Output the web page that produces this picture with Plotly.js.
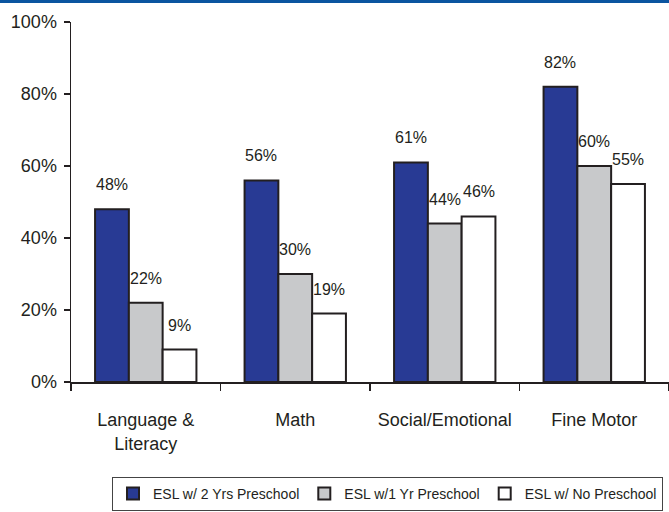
<!DOCTYPE html>
<html>
<head>
<meta charset="utf-8">
<script src="https://cdn.plot.ly/plotly-3.0.1.min.js"></script>
<style>
  html, body { margin: 0; padding: 0; background: #fff; }
  #chart { width: 669px; height: 512px; }
</style>
</head>
<body>
<div id="chart"></div>
<script>
const categories = ["Language &<br>Literacy", "Math", "Social/Emotional", "Fine Motor"];
const seriesNames = ["ESL w/ 2 Yrs Preschool", "ESL w/1 Yr Preschool", "ESL w/ No Preschool"];
const twoYrs = [48, 56, 61, 82];
const oneYr = [22, 30, 44, 60];
const noPre = [9, 19, 46, 55];
const yTickVals = [0, 20, 40, 60, 80, 100];
const yTickText = ["0%", "20%", "40%", "60%", "80%", "100%"];

const FONT = "'Liberation Sans', Arial, sans-serif";
const INK = "#231f20";
const colors = ["#283a94", "#c8c9cb", "#ffffff"];
const allSeries = [twoYrs, oneYr, noPre];

const W = 669, H = 512;
const margin = {l: 71, r: 0, t: 22, b: 130};
const bargap = 0.322;
const plotW = W - margin.l - margin.r;
const plotH = H - margin.t - margin.b;
const barPx = plotW / categories.length * (1 - bargap) / allSeries.length;

const traces = allSeries.map((vals, i) => ({
  type: "bar",
  name: seriesNames[i],
  x: categories,
  y: vals,
  marker: {color: colors[i], line: {color: INK, width: 2}},
  hoverinfo: "none"
}));

const annotations = [];
allSeries.forEach((vals, i) => {
  vals.forEach((v, j) => {
    annotations.push({
      x: categories[j], y: v, xref: "x", yref: "y",
      text: v + "%", showarrow: false,
      yanchor: "bottom", yshift: 14,
      xshift: (i - 1) * barPx,
      font: {family: FONT, size: 16, color: INK}
    });
  });
});

const layout = {
  width: W, height: H,
  margin: margin,
  paper_bgcolor: "#fff", plot_bgcolor: "#fff",
  barmode: "group", bargap: bargap, bargroupgap: 0,
  showlegend: true,
  legend: {
    orientation: "h",
    xref: "container", yref: "container",
    x: 112 / W, xanchor: "left",
    y: (H - 477) / H, yanchor: "top",
    bordercolor: "#444", borderwidth: 1,
    font: {family: FONT, size: 14, color: INK},
    itemwidth: 30, tracegroupgap: 0
  },
  xaxis: {
    type: "category",
    tickson: "boundaries",
    tickangle: 0, automargin: false,
    ticks: "outside", ticklen: 7, tickcolor: INK, tickwidth: 1.5,
    showline: true, linecolor: INK, linewidth: 1.5,
    showgrid: false, zeroline: false,
    tickfont: {family: FONT, size: 18, color: INK},
    ticklabelstandoff: 21
  },
  yaxis: {
    range: [0, 100], automargin: false,
    tickvals: yTickVals, ticktext: yTickText,
    ticks: "outside", ticklen: 6, tickcolor: INK, tickwidth: 1.5,
    showline: true, linecolor: INK, linewidth: 1.5,
    showgrid: false, zeroline: false,
    tickfont: {family: FONT, size: 18, color: INK},
    ticklabelstandoff: 3
  },
  shapes: [{
    type: "rect", xref: "paper", yref: "paper",
    x0: -margin.l / plotW, x1: 1.01,
    y0: (plotH + margin.t - 3) / plotH, y1: (plotH + margin.t + 1) / plotH,
    fillcolor: "#0b55a0", line: {width: 0}
  }],
  annotations: annotations
};

Plotly.newPlot("chart", traces, layout, {displayModeBar: false, staticPlot: true});
</script>
</body>
</html>
